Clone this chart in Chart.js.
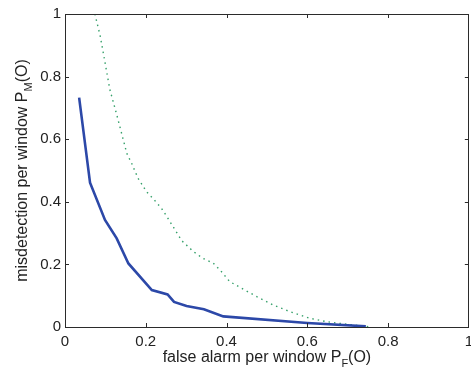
<!DOCTYPE html>
<html>
<head>
<meta charset="utf-8">
<script src="https://cdn.jsdelivr.net/npm/chart.js@4.4.0/dist/chart.umd.min.js"></script>
<style>
  html, body { margin: 0; padding: 0; background: #fff; overflow: hidden; }
  #wrap { width: 471px; height: 369px; overflow: hidden; }
</style>
</head>
<body>
<div id="wrap"><canvas id="roc" width="479" height="369"></canvas></div>
<script>
// solid curve
const solidX = [0.035, 0.062, 0.099, 0.128, 0.157, 0.215, 0.254, 0.270, 0.301, 0.344, 0.392, 0.600, 0.745];
const solidY = [0.733, 0.461, 0.342, 0.283, 0.203, 0.118, 0.104, 0.080, 0.067, 0.057, 0.034, 0.013, 0.002];

// dotted curve
const dottedX = [0.074, 0.087, 0.099, 0.111, 0.129, 0.153, 0.165, 0.181, 0.202, 0.221, 0.239, 0.254, 0.289,
                 0.318, 0.342, 0.367, 0.384, 0.408, 0.437, 0.475, 0.516, 0.557, 0.606, 0.648, 0.689, 0.753];
const dottedY = [1.000, 0.931, 0.846, 0.759, 0.674, 0.555, 0.523, 0.475, 0.432, 0.406, 0.379, 0.349, 0.276,
                 0.241, 0.219, 0.204, 0.182, 0.145, 0.124, 0.097, 0.070, 0.049, 0.028, 0.017, 0.010, 0.001];

const tickVals = [0, 0.2, 0.4, 0.6, 0.8, 1];

const toPts = (xs, ys) => xs.map((x, i) => ({ x: x, y: ys[i] }));

// draws text with one subscript part: [main, sub, rest]
function subText(ctx, parts, size) {
  const subSize = Math.round(size * 0.7);
  ctx.font = size + 'px "Liberation Sans", Arial, sans-serif';
  const w1 = ctx.measureText(parts[0]).width;
  const w3 = ctx.measureText(parts[2]).width;
  ctx.font = subSize + 'px "Liberation Sans", Arial, sans-serif';
  const w2 = ctx.measureText(parts[1]).width;
  const total = w1 + w2 + w3;
  let x = -total / 2;
  ctx.textAlign = 'left';
  ctx.textBaseline = 'alphabetic';
  ctx.font = size + 'px "Liberation Sans", Arial, sans-serif';
  ctx.fillText(parts[0], x, 0);
  x += w1;
  ctx.font = subSize + 'px "Liberation Sans", Arial, sans-serif';
  ctx.fillText(parts[1], x, 5);
  x += w2;
  ctx.font = size + 'px "Liberation Sans", Arial, sans-serif';
  ctx.fillText(parts[2], x, 0);
}

const matlabBox = {
  id: 'matlabBox',
  afterDraw(chart) {
    const ctx = chart.ctx;
    const a = chart.chartArea;
    const xs = chart.scales.x, ys = chart.scales.y;
    ctx.save();
    ctx.strokeStyle = '#2b2b2b';
    ctx.lineWidth = 1;
    ctx.strokeRect(Math.round(a.left) + 0.5, Math.round(a.top) + 0.5,
                   Math.round(a.right - a.left) - 1, Math.round(a.bottom - a.top));
    ctx.beginPath();
    tickVals.slice(1, -1).forEach(v => {
      const px = Math.round(xs.getPixelForValue(v)) + 0.5;
      ctx.moveTo(px, a.bottom); ctx.lineTo(px, a.bottom - 4);
      ctx.moveTo(px, a.top); ctx.lineTo(px, a.top + 4);
      const py = Math.round(ys.getPixelForValue(v)) + 0.5;
      ctx.moveTo(a.left, py); ctx.lineTo(a.left + 4, py);
      ctx.moveTo(a.right, py); ctx.lineTo(a.right - 4, py);
    });
    ctx.stroke();

    ctx.fillStyle = '#222';
    ctx.save();
    ctx.translate((a.left + a.right) / 2, 362);
    subText(ctx, ['false alarm per window P', 'F', '(O)'], 16);
    ctx.restore();

    ctx.save();
    ctx.translate(27, (a.top + a.bottom) / 2);
    ctx.rotate(-Math.PI / 2);
    subText(ctx, ['misdetection per window P', 'M', '(O)'], 16);
    ctx.restore();
    ctx.restore();
  }
};

const ctx = document.getElementById('roc');

new Chart(ctx, {
  type: 'scatter',
  data: {
    datasets: [
      {
        label: 'solid',
        data: toPts(solidX, solidY),
        showLine: true,
        borderColor: '#2c48a8',
        borderWidth: 2.6,
        pointRadius: 0,
        tension: 0,
      },
      {
        label: 'dotted',
        data: toPts(dottedX, dottedY),
        showLine: true,
        borderColor: '#35a06a',
        borderWidth: 1.4,
        borderDash: [1.5, 4],
        pointRadius: 0,
        tension: 0,
      },
    ],
  },
  options: {
    responsive: false,
    animation: false,
    layout: { padding: { top: 14, right: 4, left: 0, bottom: 0 } },
    plugins: { legend: { display: false }, tooltip: { enabled: false } },
    scales: {
      x: {
        type: 'linear',
        min: 0,
        max: 1,
        afterFit: (s) => { s.height = 42; },
        afterBuildTicks: (s) => { s.ticks = tickVals.map(v => ({ value: v })); },
        grid: { display: false, drawTicks: false },
        border: { display: false },
        ticks: {
          color: '#222',
          padding: 6,
          font: { family: '"Liberation Sans", Arial, sans-serif', size: 15 },
          callback: (v) => String(v),
        },
      },
      y: {
        type: 'linear',
        min: 0,
        max: 1,
        afterFit: (s) => { s.width = 65; },
        afterBuildTicks: (s) => { s.ticks = tickVals.map(v => ({ value: v })); },
        grid: { display: false, drawTicks: false },
        border: { display: false },
        ticks: {
          color: '#222',
          padding: 4,
          font: { family: '"Liberation Sans", Arial, sans-serif', size: 15 },
          callback: (v) => String(v),
        },
      },
    },
  },
  plugins: [matlabBox],
});
</script>
</body>
</html>
